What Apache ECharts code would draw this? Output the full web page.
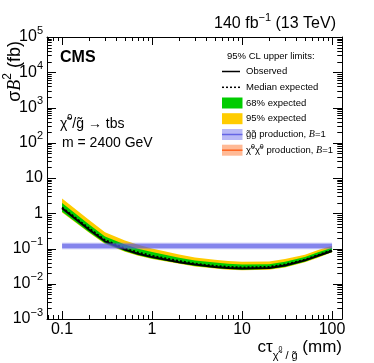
<!DOCTYPE html>
<html>
<head>
<meta charset="utf-8">
<script src="https://cdn.jsdelivr.net/npm/echarts@6.0.0/dist/echarts.min.js"></script>
<style>
html, body { margin: 0; padding: 0; background: #fff; }
#limitChart { width: 374px; height: 363px; }
</style>
</head>
<body>
<div id="limitChart"></div>
<script>
// proper decay length (mm)
const ctau = [0.1, 0.2, 0.3, 0.5, 0.7, 1, 2, 3, 5, 7, 10, 20, 30, 50, 70, 100];
// 95% CL upper limits on sigma*B^2 (fb)
const observed  = [1.38, 0.34, 0.160, 0.093, 0.071, 0.057, 0.041, 0.035, 0.030, 0.028, 0.027, 0.028, 0.033, 0.046, 0.062, 0.085];
const expMedian = [1.45, 0.37, 0.172, 0.100, 0.077, 0.062, 0.044, 0.037, 0.032, 0.030, 0.029, 0.030, 0.035, 0.048, 0.065, 0.090];
const exp68Lo   = [1.10, 0.29, 0.140, 0.084, 0.064, 0.052, 0.038, 0.032, 0.028, 0.026, 0.025, 0.026, 0.030, 0.042, 0.057, 0.080];
const exp68Hi   = [1.95, 0.48, 0.220, 0.130, 0.098, 0.079, 0.055, 0.046, 0.040, 0.037, 0.035, 0.036, 0.042, 0.057, 0.078, 0.105];
const exp95Lo   = [1.05, 0.28, 0.135, 0.081, 0.062, 0.050, 0.037, 0.031, 0.027, 0.025, 0.024, 0.025, 0.029, 0.041, 0.055, 0.078];
const exp95Hi   = [2.60, 0.64, 0.290, 0.168, 0.127, 0.100, 0.068, 0.056, 0.048, 0.044, 0.042, 0.043, 0.050, 0.067, 0.090, 0.120];
// gluino pair production cross section, m = 2400 GeV
const gluinoCtau = [0.1, 100];
const gluinoXsec = [0.117, 0.117];
const gluinoLo   = [0.095, 0.095];
const gluinoHi   = [0.145, 0.145];

const xTickLabels = ['0.1', '1', '10', '100'];
const xMajor = [0.1, 1, 10, 100];
const yTickExps = [-3, -2, -1, 0, 1, 2, 3, 4, 5];
const minorSteps = [2, 3, 4, 5, 6, 7, 8, 9];

const X_MIN = 0.068, X_MAX = 129, Y_MIN = 1e-3, Y_MAX = 1e5;
const FONT = '"Liberation Sans", Arial, sans-serif';
const SERIF = '"Liberation Serif", "Times New Roman", serif';

// tick marks on all four sides: [value, length]
const xTicks = xMajor.map(function (v) { return [v, 8]; });
const yTicks = yTickExps.map(function (e) { return [Math.pow(10, e), 9]; });
for (let d = -2; d <= 2; d++) {
    minorSteps.forEach(function (m) {
        const v = m * Math.pow(10, d);
        if (v > X_MIN && v < X_MAX) xTicks.push([v, 4]);
    });
}
for (let d = -3; d <= 4; d++) {
    minorSteps.forEach(function (m) { yTicks.push([m * Math.pow(10, d), 4.5]); });
}

function band(xs, lo, hi, color, z) {
    return {
        type: 'custom',
        z: z,
        silent: true,
        data: [[xs[0], hi[0]]],
        renderItem: function (params, api) {
            const pts = [];
            for (let i = 0; i < xs.length; i++) pts.push(api.coord([xs[i], hi[i]]));
            for (let i = xs.length - 1; i >= 0; i--) pts.push(api.coord([xs[i], lo[i]]));
            return { type: 'polygon', shape: { points: pts }, style: { fill: color } };
        }
    };
}

function tickLine(x1, y1, x2, y2) {
    return { type: 'line', z: 100, silent: true, shape: { x1: x1, y1: y1, x2: x2, y2: y2 }, style: { stroke: '#000', lineWidth: 1 } };
}

const myChart = echarts.init(document.getElementById('limitChart'));

const supRich = {
    b: { fontSize: 16, lineHeight: 24, fontFamily: FONT, color: '#000' },
    s: { fontSize: 11, lineHeight: 10, verticalAlign: 'top', fontFamily: FONT, color: '#000' }
};

const logX = {
    type: 'log', min: X_MIN, max: X_MAX,
    axisLine: { lineStyle: { color: '#000', width: 1 } },
    axisTick: { show: false },
    splitLine: { show: false }
};
const logY = {
    type: 'log', min: Y_MIN, max: Y_MAX,
    axisLine: { show: true, lineStyle: { color: '#000', width: 1 } },
    axisTick: { show: false },
    splitLine: { show: false }
};

const option = {
    animation: false,
    grid: { left: 47, right: 32, top: 37, bottom: 44, outerBoundsMode: 'none' },
    xAxis: [
        Object.assign({}, logX, {
            position: 'bottom',
            axisLabel: {
                margin: 3, fontSize: 16, fontFamily: FONT, color: '#000',
                showMinLabel: false, showMaxLabel: false,
                formatter: function (v) {
                    const s = String(+v.toPrecision(3));
                    return xTickLabels.indexOf(s) >= 0 ? s : '';
                }
            }
        }),
        Object.assign({}, logX, { position: 'top', axisLabel: { show: false } })
    ],
    yAxis: [
        Object.assign({}, logY, {
            position: 'left',
            axisLabel: {
                margin: 4, rich: supRich,
                formatter: function (v) {
                    const e = Math.round(Math.log10(v));
                    if (yTickExps.indexOf(e) < 0) return '';
                    if (e === 0) return '{b|1}';
                    if (e === 1) return '{b|10}';
                    return '{b|10}{s|' + (e < 0 ? '\u2212' + (-e) : e) + '}';
                }
            }
        }),
        Object.assign({}, logY, { position: 'right', axisLabel: { show: false } })
    ],
    series: [
        band(ctau, exp95Lo, exp95Hi, '#ffcc00', 1),
        band(ctau, exp68Lo, exp68Hi, '#00cc00', 2),
        {
            name: 'Median expected', type: 'line', z: 3, symbol: 'none', silent: true,
            lineStyle: { color: '#000', width: 2, type: [2, 2] },
            data: ctau.map(function (x, i) { return [x, expMedian[i]]; })
        },
        {
            name: 'Observed', type: 'line', z: 4, symbol: 'none', silent: true,
            lineStyle: { color: '#000', width: 2 },
            data: ctau.map(function (x, i) { return [x, observed[i]]; })
        },
        band(gluinoCtau, gluinoLo, gluinoHi, 'rgba(100,100,235,0.45)', 5),
        {
            name: 'gluino', type: 'line', z: 6, symbol: 'none', silent: true,
            lineStyle: { color: 'rgba(80,80,225,0.5)', width: 4 },
            data: gluinoCtau.map(function (x, i) { return [x, gluinoXsec[i]]; })
        },
        // x ticks: position from the x scale, frame edges from the grid rect
        {
            type: 'custom', z: 20, silent: true,
            data: xTicks.map(function (t) { return [t[0], 1, t[1]]; }),
            renderItem: function (params, api) {
                const cs = params.coordSys;
                const p = api.coord([api.value(0), 1]);
                const len = api.value(2);
                const x = Math.round(p[0]) + 0.5;
                const bottom = cs.y + cs.height, top = cs.y;
                return { type: 'group', children: [tickLine(x, bottom, x, bottom - len), tickLine(x, top, x, top + len)] };
            }
        },
        // y ticks
        {
            type: 'custom', z: 20, silent: true,
            data: yTicks.map(function (t) { return [1, t[0], t[1]]; }),
            renderItem: function (params, api) {
                const cs = params.coordSys;
                const p = api.coord([1, api.value(1)]);
                const len = api.value(2);
                const y = Math.round(p[1]) + 0.5;
                const left = cs.x, right = cs.x + cs.width;
                return { type: 'group', children: [tickLine(left, y, left + len, y), tickLine(right, y, right - len, y)] };
            }
        }
    ]
};

myChart.setOption(option);

// same ticks again as graphic lines, placed through the axis scales (fallback)
const tickMarks = [];
try {
    const rect = myChart.getModel().getComponent('grid', 0).coordinateSystem.getRect();
    xTicks.forEach(function (t) {
        const px = myChart.convertToPixel({ xAxisIndex: 0 }, t[0]);
        if (typeof px !== 'number' || !isFinite(px)) return;
        const x = Math.round(px) + 0.5;
        tickMarks.push(tickLine(x, rect.y + rect.height, x, rect.y + rect.height - t[1]));
        tickMarks.push(tickLine(x, rect.y, x, rect.y + t[1]));
    });
    yTicks.forEach(function (t) {
        const py = myChart.convertToPixel({ yAxisIndex: 0 }, t[0]);
        if (typeof py !== 'number' || !isFinite(py)) return;
        const y = Math.round(py) + 0.5;
        tickMarks.push(tickLine(rect.x, y, rect.x + t[1], y));
        tickMarks.push(tickLine(rect.x + rect.width, y, rect.x + rect.width - t[1], y));
    });
} catch (e) { /* ticks from the custom series only */ }

const legendRows = [71.5, 87.3, 103, 118.7, 134.5, 150.2];
const legendText = { fontSize: 9.5, lineHeight: 14, fontFamily: FONT, color: '#000' };

const texts = [
    {
        type: 'text', x: 336, y: 24,
        style: {
            text: '{b|140 fb}{s|\u22121}{b| (13 TeV)}', align: 'right', verticalAlign: 'middle',
            rich: supRich
        }
    },
    {
        type: 'text', x: 15, y: 41, rotation: Math.PI / 2,
        style: {
            text: '{n|\u03c3}{i|B}{s|2}{n| (fb)}', align: 'right', verticalAlign: 'middle',
            rich: {
                n: { fontSize: 18, lineHeight: 26, fontFamily: FONT, color: '#000' },
                i: { fontSize: 18, lineHeight: 26, fontFamily: SERIF, fontStyle: 'italic', color: '#000' },
                s: { fontSize: 12, lineHeight: 12, verticalAlign: 'top', fontFamily: FONT, color: '#000' }
            }
        }
    },
    {
        type: 'text', x: 342, y: 347,
        style: {
            text: '{m|c\u03c4}{u|\u03c7\u0303}{p|0}{u| / g\u0303}{m| (mm)}', align: 'right', verticalAlign: 'middle',
            rich: {
                m: { fontSize: 17, lineHeight: 28, fontFamily: FONT, color: '#000' },
                u: { fontSize: 11, lineHeight: 12, verticalAlign: 'bottom', fontFamily: FONT, color: '#000' },
                p: { fontSize: 7, lineHeight: 8, verticalAlign: 'bottom', padding: [0, 0, 8, 0], fontFamily: FONT, color: '#000' }
            }
        }
    },
    {
        type: 'text', x: 60, y: 58,
        style: { text: 'CMS', font: 'bold 16px ' + FONT, fill: '#000', verticalAlign: 'middle' }
    },
    {
        type: 'text', x: 60, y: 124,
        style: {
            text: '{m|\u03c7\u0303}{s|0}{m|/g\u0303 \u2192 tbs}', verticalAlign: 'middle',
            rich: {
                m: { fontSize: 14, lineHeight: 22, fontFamily: FONT, color: '#000' },
                s: { fontSize: 9, lineHeight: 8, verticalAlign: 'top', fontFamily: FONT, color: '#000' }
            }
        }
    },
    {
        type: 'text', x: 62, y: 143,
        style: { text: 'm = 2400 GeV', font: '14px ' + FONT, fill: '#000', verticalAlign: 'middle' }
    },
    // legend
    {
        type: 'text', x: 227, y: 56,
        style: { text: '95% CL upper limits:', font: '9.5px ' + FONT, fill: '#000', verticalAlign: 'middle' }
    },
    { type: 'line', shape: { x1: 222, y1: legendRows[0], x2: 240, y2: legendRows[0] }, style: { stroke: '#000', lineWidth: 1.5 } },
    { type: 'line', shape: { x1: 222, y1: legendRows[1], x2: 240, y2: legendRows[1] }, style: { stroke: '#000', lineWidth: 1.5, lineDash: [2, 2] } },
    { type: 'rect', shape: { x: 222, y: legendRows[2] - 5.5, width: 20.5, height: 11 }, style: { fill: '#00cc00' } },
    { type: 'rect', shape: { x: 222, y: legendRows[3] - 5.5, width: 20.5, height: 11 }, style: { fill: '#ffcc00' } },
    { type: 'rect', shape: { x: 222, y: legendRows[4] - 5.5, width: 20.5, height: 11 }, style: { fill: 'rgba(100,100,235,0.45)' } },
    { type: 'line', shape: { x1: 222, y1: legendRows[4], x2: 242.5, y2: legendRows[4] }, style: { stroke: 'rgba(80,80,225,0.8)', lineWidth: 1.5 } },
    { type: 'rect', shape: { x: 222, y: legendRows[5] - 5.5, width: 20.5, height: 11 }, style: { fill: 'rgba(255,140,80,0.6)' } },
    { type: 'line', shape: { x1: 222, y1: legendRows[5], x2: 242.5, y2: legendRows[5] }, style: { stroke: '#ff6622', lineWidth: 1.5 } },
    { type: 'text', x: 246, y: legendRows[0], style: { text: 'Observed', font: '9.5px ' + FONT, fill: '#000', verticalAlign: 'middle' } },
    { type: 'text', x: 246, y: legendRows[1], style: { text: 'Median expected', font: '9.5px ' + FONT, fill: '#000', verticalAlign: 'middle' } },
    { type: 'text', x: 246, y: legendRows[2], style: { text: '68% expected', font: '9.5px ' + FONT, fill: '#000', verticalAlign: 'middle' } },
    { type: 'text', x: 246, y: legendRows[3], style: { text: '95% expected', font: '9.5px ' + FONT, fill: '#000', verticalAlign: 'middle' } },
    {
        type: 'text', x: 246, y: legendRows[4],
        style: {
            text: '{t|g\u0303g\u0303 production, }{i|B}{t|=1}', verticalAlign: 'middle',
            rich: {
                t: legendText,
                i: { fontSize: 10, lineHeight: 14, fontFamily: SERIF, fontStyle: 'italic', color: '#000' }
            }
        }
    },
    {
        type: 'text', x: 246, y: legendRows[5],
        style: {
            text: '{t|\u03c7\u0303}{s|0}{t|\u03c7\u0303}{s|0}{t| production, }{i|B}{t|=1}', verticalAlign: 'middle',
            rich: {
                t: legendText,
                s: { fontSize: 7, lineHeight: 6, verticalAlign: 'top', fontFamily: FONT, color: '#000' },
                i: { fontSize: 10, lineHeight: 14, fontFamily: SERIF, fontStyle: 'italic', color: '#000' }
            }
        }
    }
];

myChart.setOption({ graphic: texts.concat(tickMarks) });
</script>
</body>
</html>
